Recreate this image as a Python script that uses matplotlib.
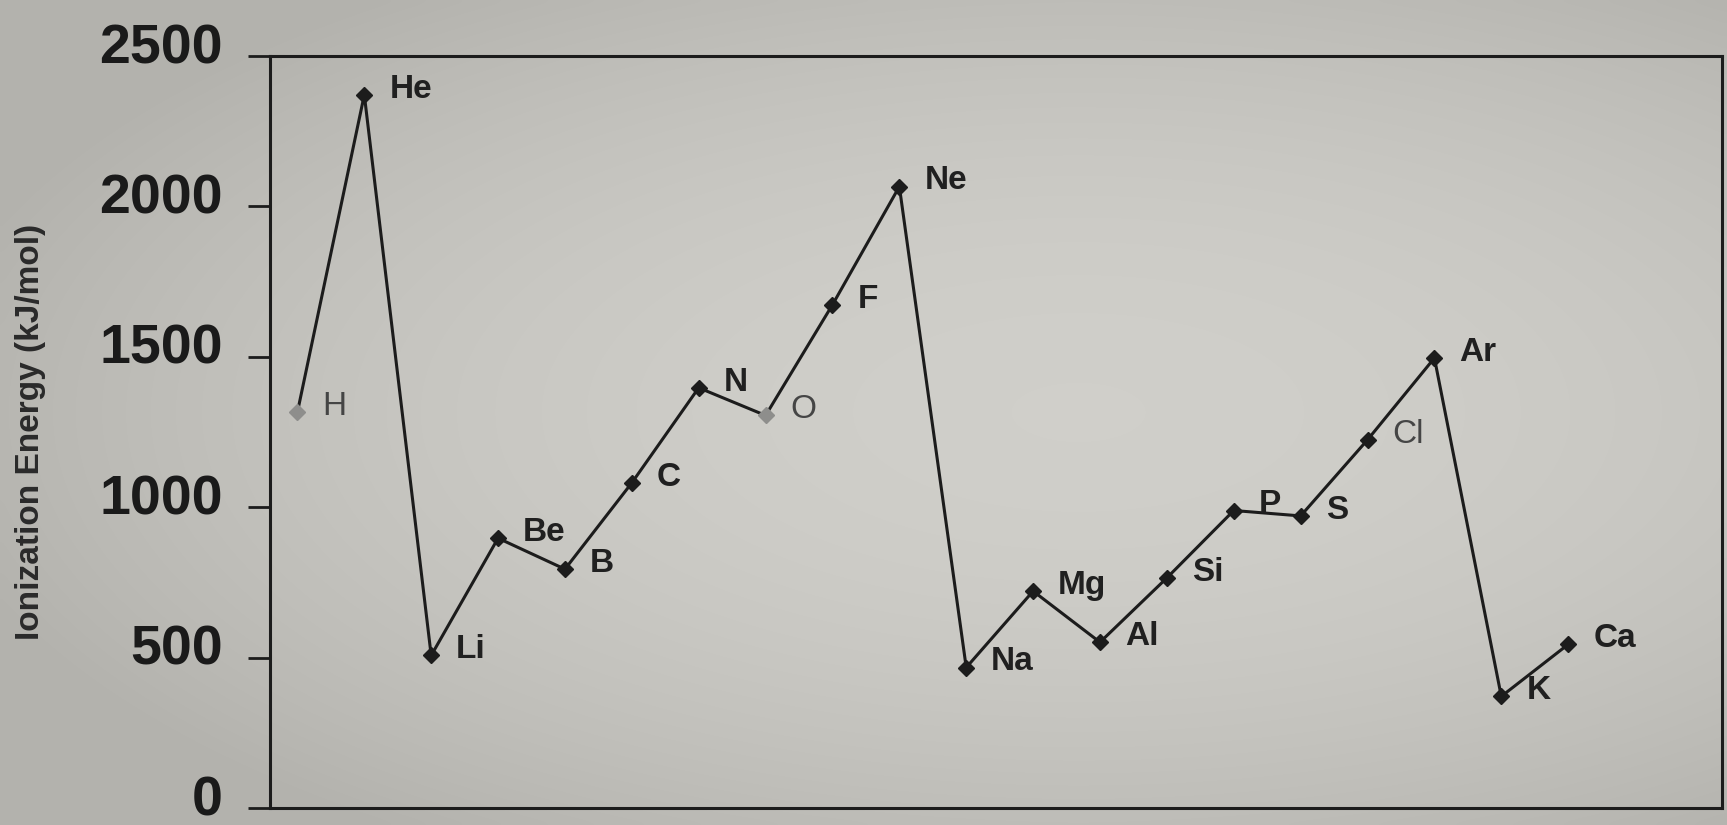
import numpy as np
import matplotlib
matplotlib.use("Agg")
import matplotlib.pyplot as plt
from matplotlib.colors import LinearSegmentedColormap
from matplotlib.transforms import ScaledTranslation

# First ionization energies of elements 1-20
elements = ["H", "He", "Li", "Be", "B", "C", "N", "O", "F", "Ne",
            "Na", "Mg", "Al", "Si", "P", "S", "Cl", "Ar", "K", "Ca"]
atomic_number = list(range(1, 21))
energy = [1316, 2371, 507, 897, 794, 1081, 1397, 1305, 1673, 2066,
          467, 721, 551, 765, 989, 971, 1224, 1496, 371, 544]
light_points = ["H", "O"]
y_ticks = [0, 500, 1000, 1500, 2000, 2500]

plt.rcParams["font.family"] = ["Liberation Sans", "DejaVu Sans"]

fig = plt.figure(figsize=(17.27, 8.25), dpi=100)
fig.patch.set_facecolor("#c6c5c0")

# soft paper shading behind everything
bg = fig.add_axes([0, 0, 1, 1], zorder=-10)
gx, gy = np.meshgrid(np.linspace(-1, 1, 300), np.linspace(-1, 1, 150))
shade = 1 - 0.5 * ((gx - 0.15) ** 2 * 0.6 + gy ** 2 * 0.7) + 0.06 * gx
paper = LinearSegmentedColormap.from_list("paper", ["#b3b2ad", "#d2d1cc"])
bg.imshow(shade, cmap=paper, vmin=0.45, vmax=1.05, aspect="auto",
          extent=[0, 1, 0, 1], interpolation="bicubic")
bg.axis("off")

ink = "#1c1c1c"
ax = fig.add_axes([270 / 1727, 1 - 808 / 825, 1452 / 1727, 752 / 825])
ax.patch.set_alpha(0)

ax.plot(atomic_number, energy, color=ink, lw=2.2, zorder=2)
for z, e, name in zip(atomic_number, energy, elements):
    light = name in light_points
    ax.plot(z, e, marker="D", ms=8.5, color="#8e8e8c" if light else ink,
            mec="#8e8e8c" if light else ink, zorder=3)
    soft = name in ("H", "O", "Cl")
    ax.annotate(name, (z, e), xytext=(18, 4), textcoords="offset points",
                ha="left", va="center", fontsize=24,
                fontweight="normal" if soft else "bold",
                color="#454545" if soft else "#202020")

ax.set_xlim(0.59, 22.3)
ax.set_ylim(0, 2500)
ax.set_xticks([])
ax.set_yticks(y_ticks)
ax.set_yticklabels([str(t) for t in y_ticks])
ax.tick_params(axis="y", direction="out", length=16, width=2, color=ink,
               pad=18, labelsize=40, labelcolor="#1a1a1a")
for lab in ax.get_yticklabels():
    lab.set_fontweight("bold")
    lab.set_transform(lab.get_transform() + ScaledTranslation(0, 0.13, fig.dpi_scale_trans))
for s in ax.spines.values():
    s.set_linewidth(2.2)
    s.set_color(ink)

fig.text(31 / 1727, 1 - 432 / 825, "Ionization Energy (kJ/mol)", rotation=90,
         ha="center", va="center", fontsize=24, fontweight="bold", color="#2a2a2a")

fig.savefig("out.png", dpi=100, facecolor=fig.get_facecolor())
